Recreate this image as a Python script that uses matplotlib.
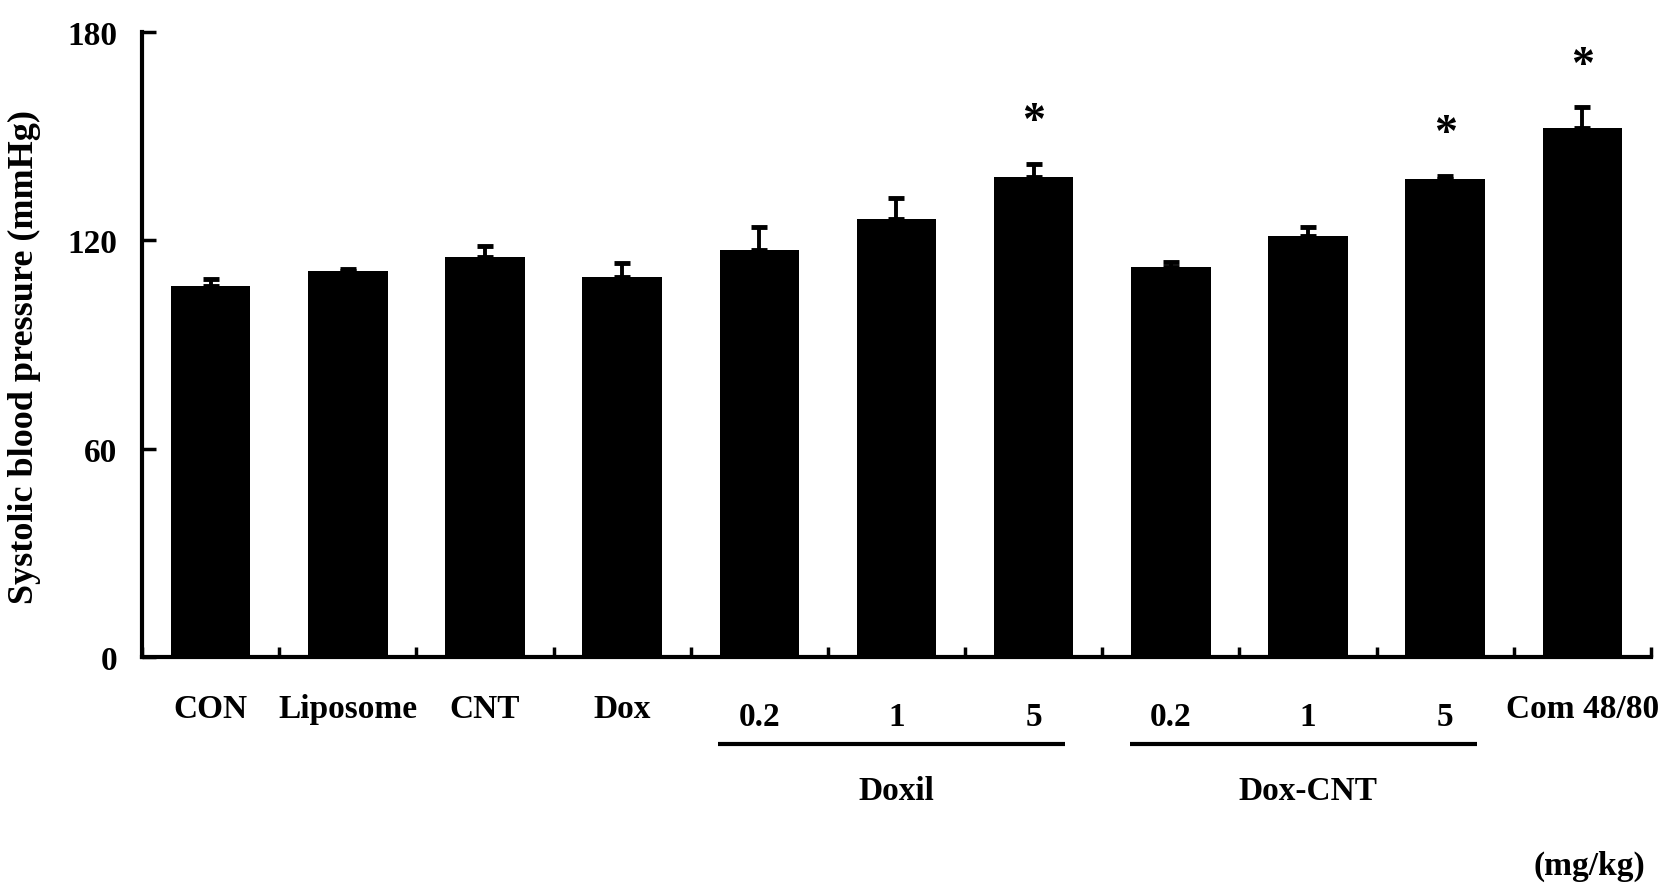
import numpy as np
import matplotlib
matplotlib.use("Agg")
import matplotlib.pyplot as plt

# values (mmHg)
labels = ["CON", "Liposome", "CNT", "Dox", "0.2", "1", "5", "0.2", "1", "5", "Com 48/80"]
means = [106.9, 111.2, 115.2, 109.6, 117.3, 126.2, 138.2, 112.2, 121.3, 137.7, 152.3]
errors = [2.0, 0.5, 3.3, 3.9, 6.7, 6.1, 3.9, 1.7, 2.7, 0.8, 6.0]
significant = [False, False, False, False, False, False, True, False, False, True, True]
groups = [("Doxil", 4, 6), ("Dox-CNT", 7, 9)]
yticks = [0, 60, 120, 180]

plt.rcParams['font.family'] = ['Liberation Serif', 'DejaVu Serif']
plt.rcParams['font.weight'] = 'bold'
FS = 24

fig = plt.figure(figsize=(16.66, 8.95), dpi=100)
ax = fig.add_axes([0.0852, 0.2648, 0.9058, 0.6982])

x = np.arange(len(labels))
ax.bar(x, means, width=0.58, color='black')
ax.errorbar(x, means, yerr=[np.zeros(len(errors)), errors], fmt='none',
            ecolor='black', elinewidth=2.8, capsize=6, capthick=3.5)

# significance stars
for xi, m, e, s in zip(x, means, errors, significant):
    if s:
        ax.annotate("*", (xi, m + e), xytext=(0, 15), textcoords='offset points',
                    ha='center', va='bottom', fontsize=33, fontweight='bold')

ax.set_xlim(-0.5, len(labels) - 0.5)
ax.set_ylim(0, 180)
ax.set_yticks(yticks)
ax.set_yticklabels([str(t) for t in yticks], fontsize=FS, fontweight='bold')
ax.tick_params(axis='y', direction='in', length=10, width=2.5, pad=18)
ax.set_xticks(np.arange(len(labels) + 1) - 0.5)
ax.set_xticklabels([])
ax.tick_params(axis='x', direction='in', length=7, width=2.5)

for side in ['top', 'right']:
    ax.spines[side].set_visible(False)
for side in ['left', 'bottom']:
    ax.spines[side].set_linewidth(3)

tr = ax.get_xaxis_transform()
for xi, lab in zip(x, labels):
    yy = -0.095 if lab in ("0.2", "1", "5") else -0.083
    ax.text(xi, yy, lab, transform=tr, ha='center', va='center',
            fontsize=FS, fontweight='bold', clip_on=False)

for name, a, b in groups:
    ax.plot([a - 0.3, b + 0.23], [-0.139, -0.139], transform=tr, color='black',
            linewidth=3, clip_on=False, solid_capstyle='butt')
    ax.text((a + b) / 2, -0.213, name, transform=tr, ha='center', va='center',
            fontsize=FS, fontweight='bold', clip_on=False)

ax.text(10.05, -0.333, "(mg/kg)", transform=tr, ha='center', va='center',
        fontsize=FS, fontweight='bold', clip_on=False)

fig.text(0.0145, 0.601, "Systolic blood pressure (mmHg)", rotation=90,
         ha='center', va='center', fontsize=26, fontweight='bold')

fig.savefig("out.png", dpi=100)
